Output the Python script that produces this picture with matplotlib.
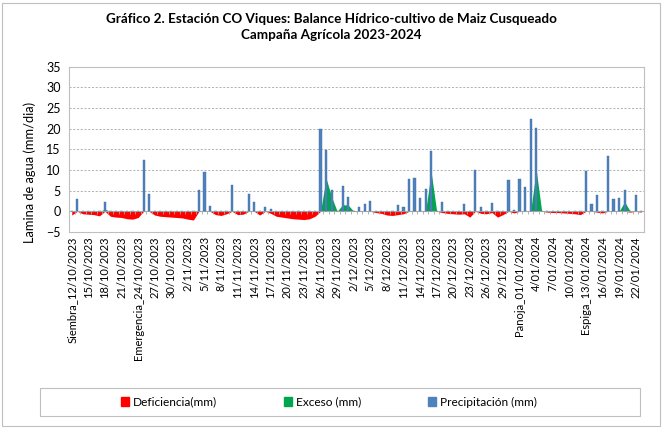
import numpy as np
import pandas as pd
import matplotlib
matplotlib.use('Agg')
import matplotlib.pyplot as plt
from matplotlib.patches import Patch, Rectangle

plt.rcParams['font.family'] = ['Lato', 'DejaVu Sans']

# ---- data (daily, 12/10/2023 .. 23/01/2024) ----
dates = pd.date_range('2023-10-12', '2024-01-23', freq='D')

precipitacion = [
    0, 3.0, 0, 0, 0, 0, 2.3, 0, 0, 0,            # 0-9
    0, 0, 0, 12.3, 4.3, 0, 0, 0, 0, 0,           # 10-19
    0, 0, 0, 5.2, 9.5, 1.4, 0, 0, 0, 6.3,        # 20-29
    0, 0, 4.3, 2.2, 0, 1.1, 0.6, 0, 0, 0,        # 30-39
    0, 0, 0, 0, 0, 20.0, 14.7, 5.2, 0, 6.2,      # 40-49
    3.5, 0, 1.0, 1.7, 2.6, 0, 0, 0, 0, 1.6,      # 50-59
    1.0, 7.9, 8.1, 3.3, 5.3, 14.5, 0, 2.2, 0, 0, # 60-69
    0, 1.8, 0, 10.1, 1.0, 0, 2.0, 0, 0, 7.5,     # 70-79
    0.4, 7.7, 5.9, 22.2, 20.2, 0, 0, 0, 0, 0,    # 80-89
    0, 0, 0, 9.7, 1.8, 3.9, 0, 13.3, 3.0, 3.3,   # 90-99
    5.1, 0, 3.9, 0,                              # 100-103
]

exceso = [
    0, 0, 0, 0, 0, 0, 0.5, 0, 0, 0,
    0, 0, 0, 0, 0, 0, 0, 0, 0, 0,
    0, 0, 0, 0, 0, 0, 0, 0, 0, 0,
    0, 0, 0, 0, 0, 0, 0, 0, 0, 0,
    0, 0, 0, 0, 0, 0, 8.0, 3.5, 0, 1.6,
    1.5, 0, 0, 0, 0, 0, 0, 0, 0, 0,
    0, 0, 0, 0, 0, 9.5, 0, 0, 0, 0,
    0, 0, 0, 0, 0, 0, 0, 0, 0, 0,
    0, 0, 0, 0, 10.0, 0, 0, 0, 0, 0,
    0, 0, 0, 0, 0, 0, 0, 0, 0, 0,
    2.3, 0, 0, 0,
]

deficiencia = [
    -0.9, 0, -0.6, -0.7, -0.8, -1.1, 0, -1.2, -1.4, -1.5,
    -1.8, -1.9, -1.5, 0, 0, -0.9, -1.2, -1.3, -1.4, -1.5,
    -1.6, -1.9, -2.1, 0, 0, 0, -0.8, -1.0, -0.6, 0,
    -0.8, -0.7, 0, 0, -0.9, 0, -0.5, -1.2, -1.4, -1.6,
    -1.8, -1.9, -2.0, -1.8, -1.2, 0, 0, 0, 0, 0,
    0, 0, 0, 0, 0, -0.3, -0.5, -0.9, -1.0, -0.8,
    -0.6, 0, 0, 0, 0, 0, 0, -0.3, -0.5, -0.6,
    -0.7, -0.6, -1.4, 0, -0.5, -0.6, -0.3, -1.4, -0.8, 0,
    -0.4, 0, 0, 0, 0, 0, -0.2, -0.3, -0.3, -0.4,
    -0.5, -0.6, -0.8, 0, 0, -0.2, -0.4, 0, 0, 0,
    0, -0.2, 0, -0.2,
]

tick_labels = [
    'Siembra_12/10/2023', '15/10/2023', '18/10/2023', '21/10/2023',
    'Emergencia_24/10/2023', '27/10/2023', '30/10/2023', '2/11/2023',
    '5/11/2023', '8/11/2023', '11/11/2023', '14/11/2023', '17/11/2023',
    '20/11/2023', '23/11/2023', '26/11/2023', '29/11/2023', '2/12/2023',
    '5/12/2023', '8/12/2023', '11/12/2023', '14/12/2023', '17/12/2023',
    '20/12/2023', '23/12/2023', '26/12/2023', '29/12/2023',
    'Panoja_01/01/2024', '4/01/2024', '7/01/2024', '10/01/2024',
    'Espiga_13/01/2024', '16/01/2024', '19/01/2024', '22/01/2024',
]
tick_step = 3

y_ticks = [-5, 0, 5, 10, 15, 20, 25, 30, 35]

title = ('Gráfico 2. Estación CO Viques: Balance Hídrico-cultivo de Maiz Cusqueado\n'
         'Campaña Agrícola 2023-2024')

# ---- styling ----
RED = '#FF0000'
GREEN = '#00A550'
BLUE = '#4F81BD'
GRAY = '#A6A6A6'

W, H = 663, 428
fig = plt.figure(figsize=(W / 100, H / 100), dpi=100)
fig.patch.set_facecolor('white')

# chart-area border
fig.add_artist(Rectangle((2 / W, 2 / H), (W - 5) / W, (H - 5) / H,
                         transform=fig.transFigure, fill=False,
                         edgecolor='#BFBFBF', lw=0.8))

left, right, top, bottom = 69, 644, 66.5, 232
ax = fig.add_axes([left / W, 1 - bottom / H, (right - left) / W, (bottom - top) / H])

n = len(dates)
x = np.arange(n)

ax.fill_between(x, deficiencia, 0, color=RED, lw=0, zorder=2)
ax.fill_between(x, exceso, 0, color=GREEN, lw=0, zorder=2)
ax.bar(x, precipitacion, width=0.4, color=BLUE, edgecolor='#3F6FA8',
       lw=0.3, zorder=3)

ax.set_xlim(-0.5, n - 0.5)
ax.set_ylim(y_ticks[0], y_ticks[-1])
ax.set_yticks(y_ticks)
ax.tick_params(axis='y', length=0, labelsize=9, pad=6)

for v in y_ticks[1:]:
    if v == 0:
        continue
    ax.axhline(v, color=GRAY, lw=0.6, ls=(0, (2.5, 2)), zorder=1)
ax.axhline(0, color=GRAY, lw=0.8, zorder=2.5)
# category tick marks on the zero axis
ax.vlines(x[:-1] + 0.5, -0.55, 0, color=GRAY, lw=0.6, zorder=2.5)

ax.set_xticks(x[::tick_step])
ax.set_xticklabels(tick_labels, rotation=90, fontsize=8.0)
ax.tick_params(axis='x', length=0, pad=3)

for s in ax.spines.values():
    s.set_color('#BFBFBF')
    s.set_linewidth(0.8)

fig.text(30 / W, 1 - 172 / H, 'Lamina de agua (mm/dia)', rotation=90,
         ha='center', va='center', fontsize=9.3)

fig.text(331 / W, 1 - 27 / H, title, ha='center', va='center',
         fontsize=9.7, fontweight='bold', linespacing=1.35)

# legend
fig.add_artist(Rectangle((40 / W, 1 - 416 / H), 600 / W, 28 / H,
                         transform=fig.transFigure, fill=False,
                         edgecolor='#BFBFBF', lw=0.8))
handles = [Patch(color=RED, label='Deficiencia(mm)'),
           Patch(color=GREEN, label='Exceso (mm)'),
           Patch(color=BLUE, label='Precipitación (mm)')]
fig.legend(handles=handles, loc='center', bbox_to_anchor=(329 / W, 1 - 402 / H),
           ncol=3, frameon=False, fontsize=8.6, handlelength=0.7,
           handleheight=0.7, handletextpad=0.3, columnspacing=5.6,
           borderpad=0)

fig.savefig('out.png', dpi=100)
